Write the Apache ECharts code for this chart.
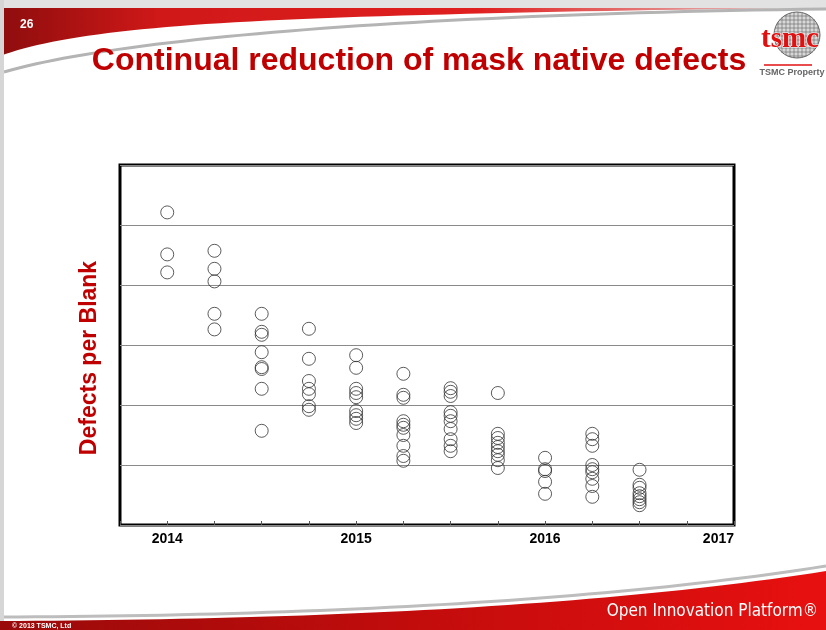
<!DOCTYPE html>
<html>
<head>
<meta charset="utf-8">
<script src="https://cdn.jsdelivr.net/npm/echarts@6/dist/echarts.min.js"></script>
<style>
  html, body { margin: 0; padding: 0; background: #ffffff; }
  #chart { width: 826px; height: 630px; }
</style>
</head>
<body>
<div id="chart"></div>
<script>
// Quarter positions (fractional years) where blanks were measured
const quarters = [2014.0, 2014.25, 2014.5, 2014.75, 2015.0, 2015.25, 2015.5, 2015.75, 2016.0, 2016.25, 2016.5];

// Defects per blank, one list per quarter (in grid-line units)
const q2014a = [5.21, 4.51, 4.21];
const q2014b = [4.57, 4.27, 4.06, 3.52, 3.26];
const q2014c = [3.52, 3.22, 3.17, 2.88, 2.63, 2.60, 2.27, 1.57];
const q2014d = [3.27, 2.77, 2.40, 2.27, 2.18, 1.98, 1.92];
const q2015a = [2.83, 2.62, 2.27, 2.20, 2.13, 1.90, 1.83, 1.77, 1.70];
const q2015b = [2.52, 2.17, 2.12, 1.73, 1.67, 1.62, 1.50, 1.32, 1.15, 1.07];
const q2015c = [2.28, 2.22, 2.15, 1.88, 1.82, 1.73, 1.60, 1.43, 1.32, 1.23];
const q2015d = [2.20, 1.52, 1.45, 1.37, 1.30, 1.23, 1.17, 1.08, 0.95];
const q2016a = [1.12, 0.93, 0.90, 0.72, 0.52];
const q2016b = [1.52, 1.43, 1.32, 1.00, 0.93, 0.88, 0.77, 0.65, 0.47];
const q2016c = [0.92, 0.67, 0.62, 0.53, 0.48, 0.43, 0.38, 0.33];
const perQuarter = [q2014a, q2014b, q2014c, q2014d, q2015a, q2015b, q2015c, q2015d, q2016a, q2016b, q2016c];

// Year tick labels on the time axis
const yearLabels = ['2014', '2015', '2016', '2017'];

const points = [];
quarters.forEach((q, i) => perQuarter[i].forEach(v => points.push([q, v])));

const RED = '#c00000';

// Sample a cubic Bezier segment into a list of points
function bez(p0, p1, p2, p3, n) {
  const out = [];
  for (let i = 0; i <= n; i++) {
    const t = i / n, u = 1 - t;
    out.push([
      u * u * u * p0[0] + 3 * u * u * t * p1[0] + 3 * u * t * t * p2[0] + t * t * t * p3[0],
      u * u * u * p0[1] + 3 * u * u * t * p1[1] + 3 * u * t * t * p2[1] + t * t * t * p3[1]
    ]);
  }
  return out;
}

function hGrad(stops) {
  return { type: 'linear', x: 0, y: 0, x2: 1, y2: 0, colorStops: stops };
}

// Grid lines inside the wafer logo, clipped to its circle
function waferGrid(cx, cy, r, step) {
  const els = [];
  for (let d = -r + step; d < r; d += step) {
    const h = Math.sqrt(r * r - d * d);
    els.push({ type: 'line', shape: { x1: cx + d, y1: cy - h, x2: cx + d, y2: cy + h }, style: { stroke: '#666', lineWidth: 0.6 }, silent: true });
    els.push({ type: 'line', shape: { x1: cx - h, y1: cy + d, x2: cx + h, y2: cy + d }, style: { stroke: '#666', lineWidth: 0.6 }, silent: true });
  }
  return els;
}

// Header swoosh outline
const headerEdge = bez([800, 8], [560, 11], [300, 16], [180, 26], 30)
  .concat(bez([180, 26], [90, 33], [35, 43], [0, 56], 20).slice(1));
const headerShape = [[0, 8]].concat(headerEdge);
const headerLine = bez([4, 72], [120, 38], [420, 14], [826, 9], 50);

// Footer band outline
const footerLine = bez([0, 617], [300, 616], [600, 602], [826, 566], 50);
const footerEdge = bez([0, 621], [300, 620], [600, 607], [826, 571], 50);
const footerShape = footerEdge.concat([[826, 630], [0, 630]]);

const chart = echarts.init(document.getElementById('chart'), null, { renderer: 'canvas' });

const decorations = [
  { type: 'rect', shape: { x: 0, y: 0, width: 826, height: 10 }, style: { fill: '#e2e2e2' }, silent: true, z: -10 },
  { type: 'polygon', shape: { points: headerShape },
    style: { fill: hGrad([{ offset: 0, color: '#8e0d0d' }, { offset: 0.2, color: '#d01818' },
      { offset: 0.6, color: '#e02020' }, { offset: 1, color: '#e8c8c8' }]) }, silent: true, z: -9 },
  { type: 'polyline', shape: { points: headerLine }, style: { fill: null, stroke: '#b4b4b4', lineWidth: 3 }, silent: true, z: -8 },
  { type: 'rect', shape: { x: 0, y: 0, width: 4, height: 630 }, style: { fill: '#d6d6d6' }, silent: true, z: -7 },
  { type: 'polyline', shape: { points: footerLine }, style: { fill: null, stroke: '#bdbdbd', lineWidth: 3 }, silent: true, z: -8 },
  { type: 'polygon', shape: { points: footerShape },
    style: { fill: hGrad([{ offset: 0, color: '#9a0a0a' }, { offset: 0.5, color: '#c20c0c' }, { offset: 1, color: '#e81010' }]) }, silent: true, z: -7 },
  { type: 'text', x: 20, y: 25, style: { text: '26', fill: '#ffffff', fontSize: 12, fontWeight: 'bold', fontFamily: 'Liberation Sans', verticalAlign: 'middle' }, silent: true },
  { type: 'text', x: 818, y: 612, style: { text: 'Open Innovation Platform®', fill: '#ffffff', fontSize: 17, fontFamily: 'DejaVu Sans Condensed, Liberation Sans Narrow, Liberation Sans', align: 'right', verticalAlign: 'middle' }, silent: true },
  { type: 'text', x: 12, y: 626, style: { text: '© 2013 TSMC, Ltd', fill: '#ffffff', fontSize: 7, fontWeight: 'bold', fontFamily: 'Liberation Sans', verticalAlign: 'middle' }, silent: true },
  { type: 'text', x: 419, y: 61, style: { text: 'Continual reduction of mask native defects', fill: RED, fontSize: 32, fontWeight: 'bold', fontFamily: 'Liberation Sans', align: 'center', verticalAlign: 'middle' }, silent: true },
  { type: 'text', x: 90, y: 358, rotation: Math.PI / 2, style: { text: 'Defects per Blank', fill: RED, fontSize: 23, fontWeight: 'bold', fontFamily: 'Liberation Sans', align: 'center', verticalAlign: 'middle' }, silent: true },
  { type: 'circle', shape: { cx: 797, cy: 35, r: 23 }, style: { fill: '#d8d8d8', stroke: '#666', lineWidth: 1 }, silent: true },
  ...waferGrid(797, 35, 23, 4),
  { type: 'text', x: 790, y: 40, style: { text: 'tsmc', fill: '#e01010', fontSize: 29, fontWeight: 'bold', fontFamily: 'Liberation Serif', align: 'center', verticalAlign: 'middle', stroke: '#ffffff', lineWidth: 1 }, silent: true },
  { type: 'line', shape: { x1: 764, y1: 65, x2: 812, y2: 65 }, style: { stroke: '#e01010', lineWidth: 1.5 }, silent: true },
  { type: 'text', x: 792, y: 73, style: { text: 'TSMC Property', fill: '#666666', fontSize: 9, fontWeight: 'bold', fontFamily: 'Liberation Sans', align: 'center', verticalAlign: 'middle' }, silent: true }
];

chart.setOption({
  animation: false,
  backgroundColor: '#ffffff',
  graphic: decorations,
  grid: { left: 120, top: 165, width: 614, height: 360, show: true, borderColor: '#000', borderWidth: 3, backgroundColor: '#ffffff' },
  xAxis: {
    type: 'value', min: 2013.75, max: 2017, interval: 0.25,
    axisLine: { show: false },
    axisTick: { show: true, inside: true, length: 4, lineStyle: { color: '#555', width: 1 } },
    splitLine: { show: false },
    axisLabel: {
      margin: 7, color: '#000', fontSize: 14, fontWeight: 'bold', fontFamily: 'Liberation Sans',
      alignMaxLabel: 'right', showMinLabel: true,
      formatter: v => {
        const r = Math.round(v);
        const i = yearLabels.indexOf(String(r));
        return Math.abs(v - r) < 1e-6 && i >= 0 ? yearLabels[i] : '';
      }
    }
  },
  yAxis: {
    type: 'value', min: 0, max: 6, interval: 1,
    axisLine: { show: false }, axisTick: { show: false }, axisLabel: { show: false },
    splitLine: { show: true, lineStyle: { color: '#8a8a8a', width: 1 } }
  },
  series: [{
    type: 'scatter',
    data: points,
    symbol: 'circle',
    symbolSize: 13,
    itemStyle: { color: 'rgba(0,0,0,0)', borderColor: '#333', borderWidth: 1 },
    emphasis: { disabled: true }
  }]
});
</script>
</body>
</html>
